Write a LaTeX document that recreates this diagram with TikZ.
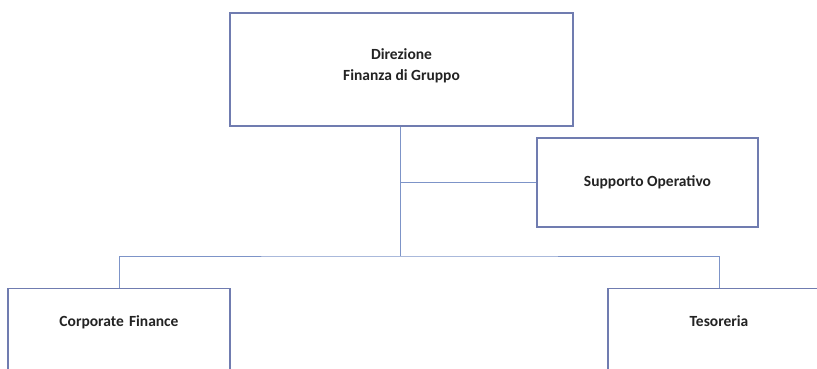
\documentclass[tikz,border=0pt]{standalone}
\usepackage{fontspec}
\setmainfont{Carlito}
\definecolor{boxline}{RGB}{112,124,176}
\definecolor{linkline}{RGB}{125,148,200}
\definecolor{boxtext}{RGB}{35,35,35}
\begin{document}
\begin{tikzpicture}[x=1pt,y=-1pt,
    every node/.style={draw=boxline,line width=1.1pt,rectangle,inner sep=0pt,text=boxtext,font=\fontsize{15.5}{21}\selectfont\bfseries,align=center},
    link/.style={draw=linkline,line width=0.9pt}]
            \useasboundingbox (0,0) rectangle (817,369);
            \clip (0,0) rectangle (817,369);
            \fill[white] (0,0) rectangle (817,369);
            \node (top) at (401.5,69.5) [minimum width=343pt,minimum height=113pt,text depth=10pt] {Direzione\\Finanza di Gruppo};
            \node (supp) at (647.5,182.5) [minimum width=221pt,minimum height=89pt] {Supporto Operativo};
            \node (corp) at (119,288) [anchor=north,text width=222pt,text height=38pt,text depth=90pt] {Corporate Finance};
            \node (tes) at (719,288) [anchor=north,text width=222pt,text height=38pt,text depth=90pt] {Tesoreria};
            \coordinate (bus) at (400,256);
            \draw[link] (top.south -| bus) -- (bus);
            \draw[link] (supp.west -| bus) -- (supp.west);
            \draw[link] (corp.north) |- (bus) -| (tes.north);
        \end{tikzpicture}
\end{document}
